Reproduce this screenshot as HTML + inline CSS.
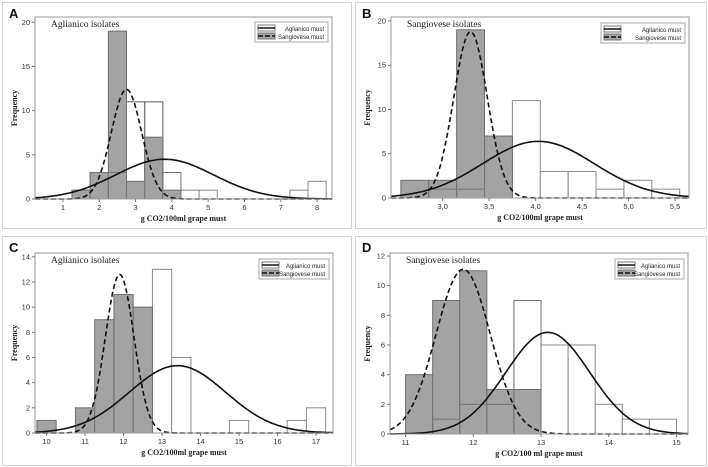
<!DOCTYPE html>
<html><head><meta charset="utf-8"><style>
html,body{margin:0;padding:0;background:#fff;}
svg{display:block;}
</style></head><body>
<svg id="fig" width="708" height="467" viewBox="0 0 708 467" xmlns="http://www.w3.org/2000/svg"></svg>
<script>
// ---- Panel A data ----
const aBins = [1.25,1.75,2.25,2.75,3.25,3.75,4.25,4.75,5.25,5.75,6.25,6.75,7.25,7.75];
const aAglianico = [1,3,3,11,11,3,1,1,0,0,0,0,1,2];
const aSangiovese = [1,3,19,2,7,1,0,0,0,0,0,0,0,0];
const aCurveAgl = [3.8,1.35,4.5];
const aCurveSan = [2.75,0.42,12.4];
const aXTicks = [1,2,3,4,5,6,7,8];
const aYTicks = [0,5,10,15,20];
// ---- Panel B data ----
const bBins = [2.55,2.85,3.15,3.45,3.75,4.05,4.35,4.65,4.95,5.25];
const bAglianico = [0,1,1,0,11,3,3,1,2,1];
const bSangiovese = [2,2,19,7,0,0,0,0,0,0];
const bCurveAgl = [4.03,0.6,6.4];
const bCurveSan = [3.3,0.18,18.8];
const bXTicks = [3.0,3.5,4.0,4.5,5.0,5.5];
const bYTicks = [0,5,10,15,20];
// ---- Panel C data ----
const cBins = [9.75,10.25,10.75,11.25,11.75,12.25,12.75,13.25,13.75,14.25,14.75,15.25,15.75,16.25,16.75];
const cAglianico = [0,0,0,0,0,0,13,6,0,0,1,0,0,1,2];
const cSangiovese = [1,0,2,9,11,10,0,0,0,0,0,0,0,0,0];
const cCurveAgl = [13.4,1.25,5.35];
const cCurveSan = [11.9,0.37,12.6];
const cXTicks = [10,11,12,13,14,15,16,17];
const cYTicks = [0,2,4,6,8,10,12,14];
// ---- Panel D data ----
const dBins = [11.0,11.4,11.8,12.2,12.6,13.0,13.4,13.8,14.2,14.6];
const dAglianico = [0,1,2,2,9,6,6,2,1,1];
const dSangiovese = [4,9,11,3,3,0,0,0,0,0];
const dCurveAgl = [13.1,0.62,6.85];
const dCurveSan = [11.85,0.4,11.1];
const dXTicks = [11,12,13,14,15];
const dYTicks = [0,2,4,6,8,10,12];

const NS="http://www.w3.org/2000/svg";
const svg=document.getElementById('fig');
function mk(tag,attrs,parent){const e=document.createElementNS(NS,tag);for(const k in attrs)e.setAttribute(k,attrs[k]);(parent||svg).appendChild(e);return e;}

const panels=[
 {key:'a',letter:'A',title:'Aglianico isolates',box:[2,2,349,226],plot:[35,17,332,199],xd:[0.23,8.41],yd:[0,20.6],bw:0.5,bins:aBins,agl:aAglianico,san:aSangiovese,ca:aCurveAgl,cs:aCurveSan,xt:aXTicks,yt:aYTicks,dec:0,leg:[255,22],xt2:'g CO2/100ml grape must'},
 {key:'b',letter:'B',title:'Sangiovese isolates',box:[355,2,351,226],plot:[391,17,689,198],xd:[2.444,5.65],yd:[0,20.45],bw:0.3,bins:bBins,agl:bAglianico,san:bSangiovese,ca:bCurveAgl,cs:bCurveSan,xt:bXTicks,yt:bYTicks,dec:1,leg:[601,23],xt2:'g CO2/100ml grape must'},
 {key:'c',letter:'C',title:'Aglianico isolates',box:[2,236,349,229],plot:[35,253,333,433],xd:[9.7,17.44],yd:[0,14.3],bw:0.5,bins:cBins,agl:cAglianico,san:cSangiovese,ca:cCurveAgl,cs:cCurveSan,xt:cXTicks,yt:cYTicks,dec:0,leg:[259,259],xt2:'g CO2/100ml grape must'},
 {key:'d',letter:'D',title:'Sangiovese isolates',box:[355,236,351,229],plot:[390,253,688,434],xd:[10.77,15.17],yd:[0,12.2],bw:0.4,bins:dBins,agl:dAglianico,san:dSangiovese,ca:dCurveAgl,cs:dCurveSan,xt:dXTicks,yt:dYTicks,dec:0,leg:[615,259],xt2:'g CO2/100 ml grape must'}
];

panels.forEach(p=>{
 const g=mk('g',{});
 
 
 const [L,T,R,B]=p.plot;
 const X=v=>L+(v-p.xd[0])/(p.xd[1]-p.xd[0])*(R-L);
 const Y=v=>B-(v-p.yd[0])/(p.yd[1]-p.yd[0])*(B-T);
 const frame=mk('rect',{x:p.box[0]+0.5,y:p.box[1]+0.5,width:p.box[2],height:p.box[3],fill:'none',stroke:'#d4d4d4','stroke-width':1},g);
 
 
 const lt=mk('text',{x:p.box[0]+7,y:p.box[1]+16,'font-family':'Liberation Sans, sans-serif','font-size':13,'font-weight':'bold',fill:'#111'},g);
 lt.textContent=p.letter;
 
 
 p.bins.forEach((b,i)=>{
  if(p.agl[i]>0){
   const r=mk('rect',{x:X(b),y:Y(p.agl[i]),width:X(b+p.bw)-X(b),height:B-Y(p.agl[i]),fill:'#fff',stroke:'#8a8a8a','stroke-width':1},g);
   
   
  }
 });
 p.bins.forEach((b,i)=>{
  if(p.san[i]>0){
   const r=mk('rect',{x:X(b),y:Y(p.san[i]),width:X(b+p.bw)-X(b),height:B-Y(p.san[i]),fill:'#a3a3a3',stroke:'#6e6e6e','stroke-width':1},g);
   
   
  }
 });
 p.bins.forEach((b,i)=>{
  if(p.agl[i]>0 && p.san[i]>0){
   const r=mk('rect',{x:X(b),y:Y(p.agl[i]),width:X(b+p.bw)-X(b),height:B-Y(p.agl[i]),fill:'none',stroke:'#777','stroke-width':1},g);
   
   
  }
 });
 [[p.ca,'none','curve-aglianico'],[p.cs,'5,3','curve-sangiovese']].forEach(([c,dash,name])=>{
  let d='';
  for(let k=0;k<=200;k++){
   const v=p.xd[0]+(p.xd[1]-p.xd[0])*k/200;
   const f=c[2]*Math.exp(-0.5*Math.pow((v-c[0])/c[1],2));
   d+=(k?'L':'M')+X(v).toFixed(1)+','+Y(f).toFixed(1);
  }
  const path=mk('path',{d:d,fill:'none',stroke:'#111','stroke-width':1.6,'stroke-dasharray':dash},g);
  
  
 });
 const pf=mk('rect',{x:L,y:T,width:R-L,height:B-T,fill:'none',stroke:'#9a9a9a','stroke-width':1},g);
 
 
 p.xt.forEach(t=>{
  mk('line',{x1:X(t),x2:X(t),y1:B,y2:B+3,stroke:'#777'},g);
  const tx=mk('text',{x:X(t),y:B+11,'text-anchor':'middle','font-family':'Liberation Sans, sans-serif','font-size':7.5,fill:'#333'},g);
  tx.textContent=p.dec?t.toFixed(1).replace('.',','):String(t);
  
  
 });
 p.yt.forEach(t=>{
  mk('line',{x1:L-3,x2:L,y1:Y(t),y2:Y(t),stroke:'#777'},g);
  const ty=mk('text',{x:L-5,y:Y(t)+2.5,'text-anchor':'end','font-family':'Liberation Sans, sans-serif','font-size':7.5,fill:'#333'},g);
  ty.textContent=String(t);
  
  
 });
 const xt=mk('text',{x:(L+R)/2,y:B+22,'text-anchor':'middle','font-family':'Liberation Serif, serif','font-size':8,'font-weight':'bold',fill:'#222'},g);
 xt.textContent=p.xt2;
 
 
 const yx=p.box[0]+15, yy=(T+B)/2;
 const yt=mk('text',{x:yx,y:yy,'text-anchor':'middle','font-family':'Liberation Serif, serif','font-size':8,'font-weight':'bold',fill:'#222',transform:`rotate(-90 ${yx} ${yy})`},g);
 yt.textContent='Frequency';
 
 
 const ti=mk('text',{x:L+16,y:T+10,'font-family':'Liberation Serif, serif','font-size':9.5,fill:'#222'},g);
 ti.textContent=p.title;
 
 
 const [lx,ly]=p.leg;
 const lg=mk('g',{},g);
 
 
 mk('rect',{x:lx,y:ly,width:R-lx-4,height:20,fill:'#fff',stroke:'#aaa'},lg);
 mk('rect',{x:lx+3,y:ly+3,width:17,height:6,fill:'#fff',stroke:'#777'},lg);
 mk('line',{x1:lx+3,x2:lx+20,y1:ly+6,y2:ly+6,stroke:'#111','stroke-width':1.4},lg);
 mk('rect',{x:lx+3,y:ly+11,width:17,height:6,fill:'#a3a3a3',stroke:'#777'},lg);
 mk('line',{x1:lx+3,x2:lx+20,y1:ly+14,y2:ly+14,stroke:'#111','stroke-width':1.4,'stroke-dasharray':'5,2'},lg);
 const e1=mk('text',{x:R-8,y:ly+9,'text-anchor':'end','font-family':'Liberation Sans, sans-serif','font-size':6,fill:'#222'},lg);
 e1.textContent='Aglianico must';
 
 
 const e2=mk('text',{x:R-8,y:ly+17,'text-anchor':'end','font-family':'Liberation Sans, sans-serif','font-size':6,fill:'#222'},lg);
 e2.textContent='Sangiovese must';
 
 
});
</script>
</body></html>
